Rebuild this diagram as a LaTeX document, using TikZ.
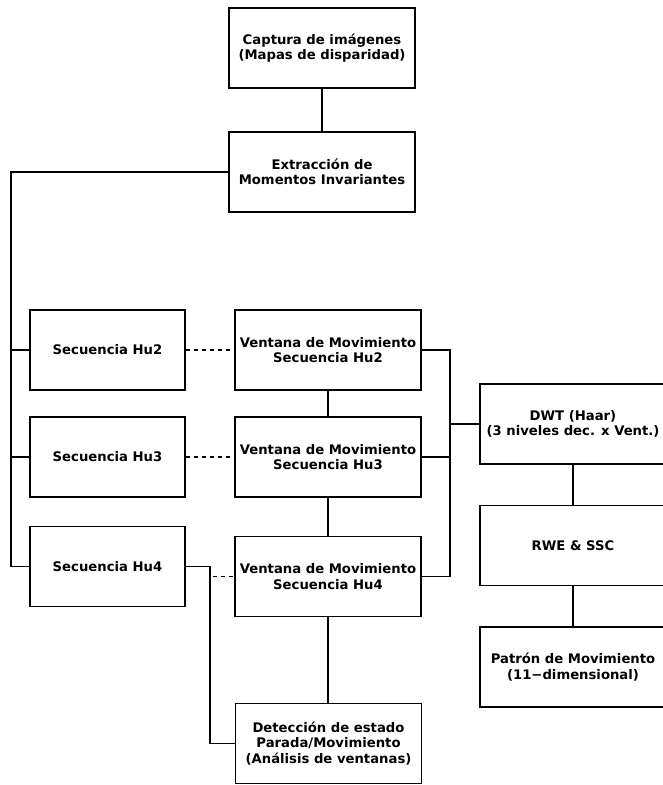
\documentclass[tikz,border=0pt]{standalone}
\usepackage{fontspec}
\setmainfont{DejaVu Sans}
\usetikzlibrary{positioning, calc}

\begin{document}
\begin{tikzpicture}[x=1pt, y=-1pt,
    blk/.style={draw, line width=1.5pt, align=center, inner sep=0pt, font=\bfseries\fontsize{13.2}{15.4}\selectfont},
    wide/.style={blk, minimum width=186pt, minimum height=80pt},
    seq/.style={blk, minimum width=155pt, minimum height=80pt},
    link/.style={line width=1.9pt},
    dot/.style={line width=1.5pt, dash pattern=on 4pt off 4pt}]
    \useasboundingbox (0,0) rectangle (662,785);

    % Acquisition and feature extraction
    \node[wide] (cap) at (322,48) {Captura de imágenes\\(Mapas de disparidad)};
    \node[wide] (ext) at (322,172) {Extracción de\\Momentos Invariantes};

    % Hu sequences
    \foreach \k/\y in {2/350,3/457,4/566.5} \node[seq] (hu\k) at (107.5,\y) {Secuencia Hu\k};

    % Moving windows
    \foreach \k/\y in {2/350,3/457,4/576.5} \node[wide] (ven\k) at (328,\y) {Ventana de Movimiento\\Secuencia Hu\k};
    \node[wide] (det) at (328.5,743.5) {Detección de estado\\Parada/Movimiento\\(Análisis de ventanas)};

    % Wavelet chain
    \node[wide] (dwt) at (573,424) {DWT (Haar)\\(3 niveles dec. x Vent.)};
    \node[wide] (rwe) at (573,545.5) {RWE \& SSC};
    \node[wide] (pat) at (573,667) {Patrón de Movimiento\\(11−dimensional)};

    % Bus points
    \coordinate (busL) at (11,0);
    \coordinate (busR) at (450,424);
    \coordinate (kink) at (210,566.5);

    % Connectors
    \draw[link] (cap) -- (ext);
    \draw[link] (ext.west) -| (hu4.west -| busL) -- (hu4.west);
    \foreach \k in {2,3} \draw[link] (hu\k.west -| busL) -- (hu\k.west);
    \foreach \k in {2,3} \draw[dot] (hu\k.east) -- (ven\k.west);
    \draw[link] (ven2) -- (ven3);
    \draw[link] (ven3) -- (ven4);
    \draw[link] (ven4.south) -- (ven4.south |- det.north);
    \draw[link] (hu4.east) -- (kink) |- (det.west);
    \draw[dot] ([xshift=3pt]kink |- ven4.west) -- (ven4.west);
    \draw[link] (ven2.east) -| (ven4.east -| busR) -- (ven4.east);
    \draw[link] (ven3.east) -- (ven3.east -| busR);
    \draw[link, line width=2.8pt] (busR) -- (dwt.west);
    \draw[link] (dwt) -- (rwe);
    \draw[link] (rwe) -- (pat);
\end{tikzpicture}
\end{document}
